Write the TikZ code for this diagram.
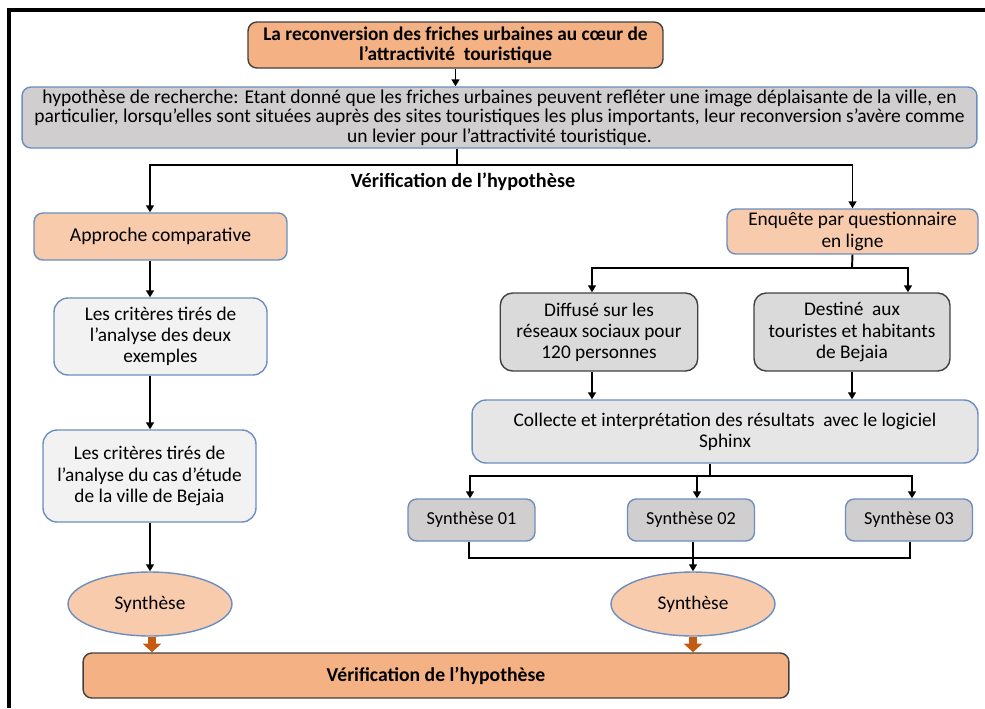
\documentclass[tikz,border=0pt]{standalone}
\usepackage{fontspec}
\setmainfont{Carlito}
\usetikzlibrary{shapes.geometric, arrows.meta, positioning}

\definecolor{orangefonce}{HTML}{F4B183}
\definecolor{orangeclair}{HTML}{F8CBAD}
\definecolor{grisclair}{HTML}{F2F2F2}
\definecolor{grismoyen}{HTML}{E7E6E6}
\definecolor{grisfonce}{HTML}{D0CECE}
\definecolor{bordbleu}{HTML}{6C8EBF}
\definecolor{bordgris}{HTML}{404040}
\definecolor{flecheorange}{HTML}{C55A11}

\begin{document}
\begin{tikzpicture}[
        x=0.02cm, y=-0.02cm,
        % Boîtes orange foncé (titre, conclusion)
        titrebox/.style={
                rectangle,
                rounded corners=5pt,
                draw=bordgris,
                line width=0.8pt,
                fill=orangefonce,
                align=center,
                inner sep=1pt,
                font=\bfseries\fontsize{11}{11.3}\selectfont
            },
        % Boîtes à bord bleu
        bleubox/.style={
                rectangle,
                rounded corners=5pt,
                draw=bordbleu,
                line width=0.8pt,
                align=center,
                inner sep=1pt,
                font=\fontsize{11}{12}\selectfont
            },
        % Boîtes à bord gris
        grisbox/.style={
                rectangle,
                rounded corners=7pt,
                draw=bordgris,
                line width=0.8pt,
                fill=grismoyen!95!black,
                align=center,
                inner sep=1pt,
                minimum width=3.95cm,
                minimum height=1.56cm,
                font=\fontsize{11}{12}\selectfont
            },
        % Synthèses numérotées
        synbox/.style={
                bleubox,
                fill=grisfonce,
                minimum width=2.54cm,
                minimum height=0.84cm,
                font=\fontsize{10.4}{12}\selectfont
            },
        % Ellipses
        synellipse/.style={
                ellipse,
                draw=bordbleu,
                line width=0.8pt,
                fill=orangeclair,
                minimum width=3.28cm,
                minimum height=1.28cm,
                font=\fontsize{11}{12}\selectfont
            },
        % Flèches
        fleche/.style={
                -{Triangle[width=4.5pt,length=4pt]},
                line width=1.1pt,
                color=black
            },
        ligne/.style={
                line width=1.1pt,
                color=black
            },
        blocfleche/.style={
                -{Triangle[width=10.5pt,length=5pt]},
                line width=4.6pt,
                color=flecheorange
            }
    ]

    \useasboundingbox (0,0) rectangle (985,708);

    % Cadre
    \draw[line width=1.8pt] (9,708) -- (9,10) -- (985,10);

    % Titre et hypothèse
    \node[titrebox, minimum width=8.3cm, minimum height=0.92cm] (titre) at (455.5,45) {
        La reconversion des friches urbaines au cœur de\\
        l’attractivité\ \ touristique
    };

    \node[bleubox, fill=grisfonce, minimum width=19.1cm, minimum height=1.22cm,
        font=\fontsize{11.1}{11}\selectfont] (hyp) at (499.5,117.5) {
        hypothèse de recherche: Etant donné que les friches urbaines peuvent refléter une image déplaisante de la ville, en\\
        particulier, lorsqu’elles sont situées auprès des sites touristiques les plus importants, leur reconversion s’avère comme\\
        un levier pour l’attractivité touristique.
    };

    \coordinate (bif) at (457,165);
    \node[font=\bfseries\fontsize{11.5}{12}\selectfont, below=1pt of bif, xshift=0.12cm] (verifLabel) {Vérification de l’hypothèse};

    % Colonne gauche
    \coordinate (colg) at (150,0);
    \node[bleubox, fill=orangeclair, minimum width=5.06cm, minimum height=0.94cm,
        font=\fontsize{11.2}{12}\selectfont] (approche) at (160.5,236.5) {Approche comparative};
    \node[bleubox, fill=grisclair, rounded corners=8pt, minimum width=4.26cm, minimum height=1.54cm] (crit1) at (160.5,336.5) {
        Les critères tirés de\\
        l’analyse des deux\\
        exemples
    };
    \node[bleubox, fill=grisclair, rounded corners=8pt, minimum width=4.26cm, minimum height=1.84cm] (crit2) at (149.5,476) {
        Les critères tirés de\\
        l’analyse du cas d’étude\\
        de la ville de Bejaia
    };
    \node[synellipse] (syn1) at (150,604) {Synthèse};

    % Colonne droite
    \node[bleubox, fill=orangeclair, minimum width=5.02cm, minimum height=0.9cm] (enquete) at (852.5,231.5) {
        Enquête par questionnaire\\
        en ligne
    };
    \node[grisbox] (diffuse) at (599,332) {
        Diffusé sur les\\
        réseaux sociaux pour\\
        120 personnes
    };
    \node[grisbox, minimum width=3.92cm] (destine) at (852,332) {
        Destiné\ \ aux\\
        touristes et habitants\\
        de Bejaia
    };
    \node[bleubox, fill=grismoyen, rounded corners=8pt, minimum width=10.12cm, minimum height=1.26cm] (collecte) at (725,431.5) {
        Collecte et interprétation des résultats\ \ avec le logiciel\\
        Sphinx
    };
    \foreach \i/\x in {01/471.5, 02/691, 03/909}
        \node[synbox] (s\i) at (\x,520) {Synthèse \i};
    \node[synellipse] (syn2) at (693,604) {Synthèse};

    % Conclusion
    \node[titrebox, minimum width=14.12cm, minimum height=0.9cm,
        font=\bfseries\fontsize{11.2}{12}\selectfont] (verif) at (436,675.5) {Vérification de l’hypothèse};

    % Flèches du haut
    \draw[fleche] (titre.south) -- (hyp.north -| titre.south);
    \draw[ligne] (hyp.south -| bif) -- (bif);
    \draw[fleche] (bif) -| (approche.north -| colg);
    \draw[fleche] (bif) -| (enquete.north);

    % Flèches gauche
    \draw[fleche] (approche.south -| colg) -- (crit1.north -| colg);
    \draw[fleche] (crit1.south -| colg) -- (crit2.north -| colg);
    \draw[fleche] (crit2.south -| colg) -- (syn1.north);

    % Flèches droite
    \coordinate (bif2) at (852,268);
    \draw[ligne] (enquete.south) -- (bif2);
    \draw[fleche] (bif2) -| ([xshift=-0.14cm]diffuse.north);
    \draw[fleche] (bif2) -| ([xshift=1.12cm]destine.north);
    \draw[fleche] ([xshift=-0.14cm]diffuse.south) -- ([xshift=-0.14cm]diffuse.south |- collecte.north);
    \draw[fleche] (destine.south) -- (destine.south |- collecte.north);

    \coordinate (bif3) at (710,476);
    \draw[ligne] (collecte.south -| bif3) -- (bif3);
    \draw[fleche] (bif3) -| ([xshift=-0.03cm]s01.north);
    \draw[fleche] (bif3) -| ([xshift=0.12cm]s02.north);
    \draw[fleche] (bif3) -| ([xshift=0.06cm]s03.north);

    \coordinate (bif4) at (693,558);
    \draw[ligne] ([xshift=-0.05cm]s01.south) |- (bif4);
    \draw[ligne] ([xshift=0.02cm]s03.south) |- (bif4);
    \draw[fleche] (s02.south -| bif4) -- (syn2.north);

    % Flèches vers la conclusion
    \draw[blocfleche] ([xshift=0.04cm]syn1.south) -- ([xshift=0.04cm]syn1.south |- verif.north);
    \draw[blocfleche] (syn2.south) -- (syn2.south |- verif.north);

\end{tikzpicture}
\end{document}
